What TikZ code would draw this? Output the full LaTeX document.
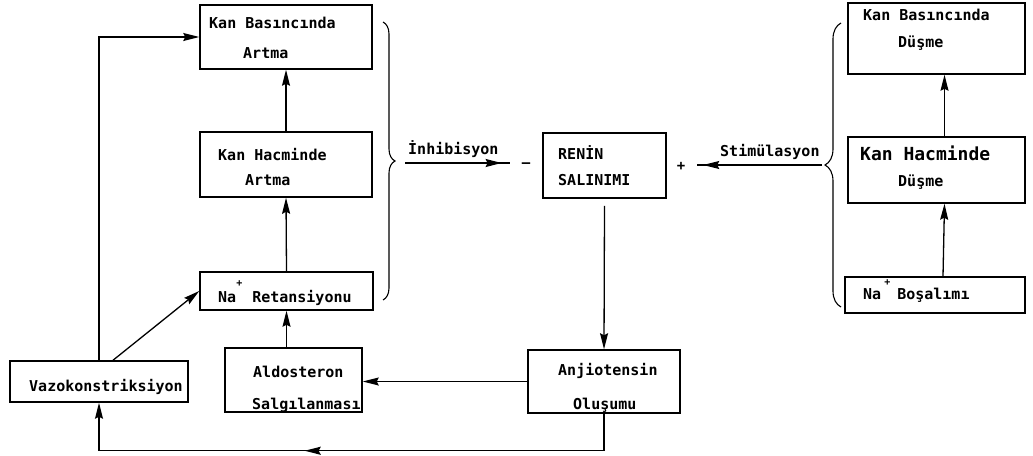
\documentclass[tikz,border=0pt]{standalone}
\usepackage{fontspec}
\setmainfont{DejaVu Sans Mono}
\usetikzlibrary{arrows.meta,decorations.pathreplacing,decorations.markings}
\begin{document}
\begin{tikzpicture}[x=1pt,y=-1pt,
  box/.style={draw,line width=1.5pt,inner sep=0pt},
  txt/.style={font=\bfseries\fontsize{15}{15}\selectfont,inner sep=0pt,anchor=west},
  bigtxt/.style={font=\bfseries\fontsize{18}{18}\selectfont,inner sep=0pt,anchor=west},
  sign/.style={font=\bfseries\fontsize{14}{14}\selectfont,inner sep=0pt,anchor=base},
  arr/.style={line width=1.3pt,-{Stealth[length=16pt,width=8pt,inset=2pt]}},
  marr/.style={line width=1.3pt,postaction={decorate},
    decoration={markings,mark=at position #1 with {\arrow{Stealth[length=16pt,width=8pt,inset=2pt]}}}},
  brc/.style={line width=1.1pt,decorate,decoration={brace,amplitude=#1}}
]
\useasboundingbox (0,0) rectangle (1033,455);

% left column boxes
\node[box,minimum width=172pt,minimum height=64pt] (kba) at (286,37) {};
\node[txt] (kba1) at (209,23) {Kan Basıncında};
\node[txt] (kba2) at (243,53) {Artma};

\node[box,minimum width=172pt,minimum height=65pt] (kha) at (286,164.5) {};
\node[txt] (kha1) at (218,155) {Kan Hacminde};
\node[txt] (kha2) at (245,180) {Artma};

\node[box,minimum width=173pt,minimum height=38pt] (nar) at (286.5,291) {};
\node[txt] (nar1) at (218,298) {Na\smash{\raisebox{16pt}{\fontsize{10}{10}\selectfont+}}\hspace{10pt}Retansiyonu};

\node[box,minimum width=137pt,minimum height=64pt] (ald) at (293.5,380) {};
\node[txt] (ald1) at (253,372) {Aldosteron};
\node[txt] (ald2) at (252,405) {Salgılanması};

\node[box,minimum width=178pt,minimum height=41pt] (vazo) at (99,381.5) {};
\node[txt] (vazo1) at (29,387) {Vazokonstriksiyon};

% centre
\node[box,minimum width=123pt,minimum height=65pt] (renin) at (604.5,165.5) {};
\node[txt] (renin1) at (558,153) {RENİN};
\node[txt] (renin2) at (558,180) {SALINIMI};

\node[box,minimum width=152pt,minimum height=63pt] (anj) at (604,381.5) {};
\node[txt] (anj1) at (558,371) {Anjiotensin};
\node[txt] (anj2) at (573,405) {Oluşumu};

% right column
\node[box,minimum width=177pt,minimum height=71pt] (kbd) at (936.5,38.5) {};
\node[txt] (kbd1) at (863,15) {Kan Basıncında};
\node[txt] (kbd2) at (898,43) {Düşme};

\node[box,minimum width=177pt,minimum height=66pt] (khd) at (936.5,170) {};
\node[bigtxt] (khd1) at (860,153) {Kan Hacminde};
\node[txt] (khd2) at (898,182) {Düşme};

\node[box,minimum width=180pt,minimum height=36pt] (nab) at (935,295) {};
\node[txt] (nab1) at (863,295) {Na\hspace{3pt}\smash{\raisebox{14pt}{\fontsize{10}{10}\selectfont+}}\hspace{7pt}Boşalımı};

% labels and signs
\node[txt] (inhlab) at (408,149) {İnhibisyon};
\node[txt] (stimlab) at (720,152) {Stimülasyon};
\node[sign] (minus) at (526,167) {–};
\node[sign] (plus) at (681,170) {+};

% braces
\draw[brc=12pt] (383,22) -- (383,300);
\draw[brc=16pt] (841,307) -- (841,23);

\coordinate (lbtip) at (405,163);
\coordinate (inhend) at (510,163);
\coordinate (rbtip) at (822,165);
\coordinate (stimend) at (697,165);

% connectors
\draw[marr=0.92] (lbtip) -- (inhend);
\draw[marr=0.95] (rbtip) -- (stimend);

\draw[arr] (vazo.north) |- (kba.west);
\draw[arr] ([xshift=14pt]vazo.north) -- (nar.west);
\draw[arr] (kha.north) -- (kba.south);
\draw[arr] (nar.north) -- (kha.south);
\draw[arr] (ald.north -| nar.south) -- (nar.south);
\draw[arr] ([yshift=-7pt]renin.south) -- (anj.north);
\draw[arr] (anj.west) -- (anj.west -| ald.east);
\draw[arr,marr=0.57] (anj.south) -- ++(0,37) -| (vazo.south);

\draw[arr] ([xshift=8pt]khd.north) -- ([xshift=8pt]kbd.south);
\draw[arr] ([xshift=8pt]nab.north) -- ([xshift=8pt]khd.south);
\end{tikzpicture}
\end{document}
